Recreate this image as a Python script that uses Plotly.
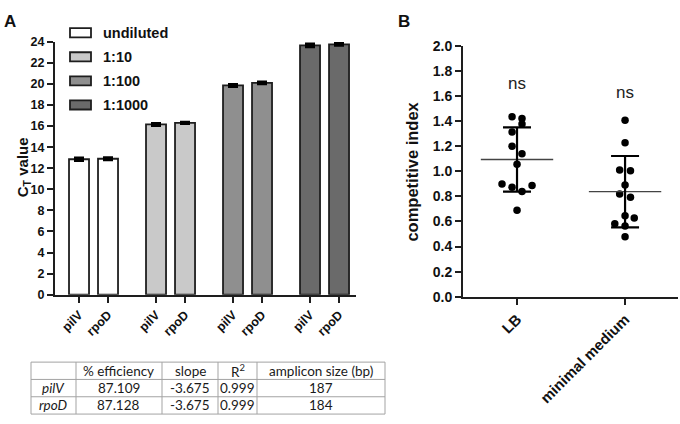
import numpy as np
import plotly.graph_objects as go

# ---------------- Data ----------------
genes = ["pilV", "rpoD"]
dilutions = ["undiluted", "1:10", "1:100", "1:1000"]
ct_values = {
    "undiluted": [12.85, 12.9],
    "1:10": [16.15, 16.3],
    "1:100": [19.85, 20.1],
    "1:1000": [23.65, 23.75],
}
ct_errors = {
    "undiluted": [0.12, 0.1],
    "1:10": [0.1, 0.06],
    "1:100": [0.1, 0.08],
    "1:1000": [0.12, 0.08],
}
ct_ticks = list(range(0, 25, 2))

table_header = ["", "% efficiency", "slope", "R<sup>2</sup>", "amplicon size (bp)"]
table_genes = ["<i>pilV</i>", "<i>rpoD</i>"]
table_efficiency = ["87.109", "87.128"]
table_slope = ["-3.675", "-3.675"]
table_r2 = ["0.999", "0.999"]
table_amplicon = ["187", "184"]

media = ["LB", "minimal medium"]
ci_lb = [1.435, 1.42, 1.376, 1.312, 1.20, 1.14, 1.056, 0.898, 0.873, 0.887, 0.839, 0.69]
ci_mm = [1.407, 1.228, 1.01, 1.003, 0.89, 0.819, 0.793, 0.645, 0.627, 0.581, 0.563, 0.478]
sig_labels = ["ns", "ns"]
sig_y = [1.70, 1.63]
ci_ticks = [round(0.2 * i, 1) for i in range(11)]

# ---------------- Styles ----------------
W, H = 680, 424
bar_colors = {"undiluted": "#ffffff", "1:10": "#c9c9c9", "1:100": "#8f8f8f", "1:1000": "#6a6a6a"}
AX = "#1e1e1e"
FONT = "Liberation Sans, Arial, sans-serif"
TFONT = "Lato, sans-serif"
pair_step = 2.655
bar_width = 0.69
jitter_lb = [-0.046, 0.046, 0.046, -0.046, -0.046, 0.046, 0.0, -0.139, -0.046, 0.139, 0.046, 0.0]
jitter_mm = [0.0, 0.0, -0.05, 0.05, 0.0, -0.05, 0.05, 0.0, 0.085, -0.095, 0.0, 0.0]
table_cols_px = [31, 76, 162, 218, 257, 385]
table_rows_px = [368, 386, 404, 422]


def px_x(p):
    return p / W


def px_y(p):
    return 1 - p / H


fig = go.Figure()

# ---------------- Panel A bars ----------------
tickvals, ticktext = [], []
for g, d in enumerate(dilutions):
    xs = [g * pair_step + j for j in range(len(genes))]
    tickvals += xs
    ticktext += genes
    fig.add_trace(go.Bar(
        x=xs, y=ct_values[d], width=bar_width, name=d,
        marker=dict(color=bar_colors[d], line=dict(color=AX, width=1.8)),
        error_y=dict(type="data", array=ct_errors[d], visible=True,
                     color="#000000", thickness=3, width=5),
        xaxis="x", yaxis="y", showlegend=False,
    ))

# custom legend (rectangular swatches)
for i, d in enumerate(dilutions):
    top = 21 + 25 * i
    fig.add_shape(type="rect", xref="paper", yref="paper",
                  x0=px_x(70), x1=px_x(91), y0=px_y(top + 9.5), y1=px_y(top),
                  fillcolor=bar_colors[d], line=dict(color=AX, width=1.8))
    fig.add_annotation(xref="paper", yref="paper", x=px_x(101), y=px_y(top + 4.8),
                       text=f"<b>{d}</b>", showarrow=False, xanchor="left", yanchor="middle",
                       font=dict(family=FONT, size=14.5, color="#111"))

# ---------------- Panel B scatter ----------------
for k, (vals, jit) in enumerate([(ci_lb, jitter_lb), (ci_mm, jitter_mm)]):
    arr = np.array(vals)
    mean, sd = arr.mean(), arr.std(ddof=1)
    fig.add_trace(go.Scatter(
        x=[k + j for j in jit], y=vals, mode="markers",
        marker=dict(color="#000", size=7.5), xaxis="x2", yaxis="y2", showlegend=False))
    fig.add_trace(go.Scatter(
        x=[k - 0.335, k + 0.335], y=[mean, mean], mode="lines",
        line=dict(color="#444", width=1.3), xaxis="x2", yaxis="y2", showlegend=False))
    fig.add_trace(go.Scatter(
        x=[k], y=[mean], mode="markers", marker=dict(size=1, color="rgba(0,0,0,0)"),
        error_y=dict(type="data", array=[sd], visible=True, color="#000",
                     thickness=2.2, width=14),
        xaxis="x2", yaxis="y2", showlegend=False))
    fig.add_annotation(x=k, y=sig_y[k], xref="x2", yref="y2", text=sig_labels[k],
                       showarrow=False, font=dict(family=FONT, size=17, color="#222"))

# ---------------- Table (drawn with lines + text) ----------------
GRID = "#a3a3a3"
for xp in table_cols_px:
    fig.add_shape(type="line", xref="paper", yref="paper",
                  x0=px_x(xp), x1=px_x(xp), y0=px_y(table_rows_px[0]), y1=px_y(table_rows_px[-1]),
                  line=dict(color=GRID, width=1))
for yp in table_rows_px:
    fig.add_shape(type="line", xref="paper", yref="paper",
                  x0=px_x(table_cols_px[0]), x1=px_x(table_cols_px[-1]), y0=px_y(yp), y1=px_y(yp),
                  line=dict(color=GRID, width=1))
table_columns = [table_genes, table_efficiency, table_slope, table_r2, table_amplicon]
for c in range(len(table_header)):
    cx = px_x((table_cols_px[c] + table_cols_px[c + 1]) / 2)
    rows = [table_header[c]] + table_columns[c]
    for r, txt in enumerate(rows):
        if not txt:
            continue
        cy = px_y((table_rows_px[r] + table_rows_px[r + 1]) / 2)
        fig.add_annotation(xref="paper", yref="paper", x=cx, y=cy, text=txt,
                           showarrow=False, xanchor="center", yanchor="middle",
                           font=dict(family=TFONT, size=13.5, color="#1a1a1a"))

axis_common = dict(showline=True, linecolor=AX, linewidth=2, ticks="outside",
                   tickcolor=AX, tickwidth=2, ticklen=6, showgrid=False, zeroline=False)

fig.update_layout(
    width=W, height=H, margin=dict(l=0, r=0, t=0, b=0),
    paper_bgcolor="white", plot_bgcolor="white",
    barmode="overlay",
    xaxis=dict(domain=[px_x(55), px_x(356)], range=[-0.828, 9.55],
               tickvals=tickvals, ticktext=[f"<b>{t}</b>" for t in ticktext],
               tickangle=-45, anchor="y",
               tickfont=dict(family=FONT, size=12.5, color="#111"), **axis_common),
    yaxis=dict(domain=[px_y(298), px_y(35)], range=[0, 24], tickvals=ct_ticks,
               ticktext=[f"<b>{t}</b>" for t in ct_ticks], anchor="x",
               tickfont=dict(family=FONT, size=12.5, color="#111"), **axis_common),
    xaxis2=dict(domain=[px_x(463), px_x(678)], range=[-0.5, 1.49],
                tickvals=[0, 1], ticktext=[f"<b>{m}</b>" for m in media],
                tickangle=-45, anchor="y2",
                tickfont=dict(family=FONT, size=15, color="#111"), **axis_common),
    yaxis2=dict(domain=[px_y(300), px_y(39.3)], range=[0, 2.0], tickvals=ci_ticks,
                ticktext=[f"<b>{t:.1f}</b>" for t in ci_ticks], anchor="x2",
                tickfont=dict(family=FONT, size=14, color="#111"), **axis_common),
)

fig.add_annotation(xref="paper", yref="paper", x=px_x(12), y=px_y(166),
                   text="<b>C<sub>T</sub> value</b>", textangle=-90, showarrow=False,
                   font=dict(family=FONT, size=15, color="#111"))
fig.add_annotation(xref="paper", yref="paper", x=px_x(412), y=px_y(170),
                   text="<b>competitive index</b>", textangle=-90, showarrow=False,
                   font=dict(family=FONT, size=16.5, color="#111"))
fig.add_annotation(xref="paper", yref="paper", x=px_x(2), y=px_y(2),
                   text="<b>A</b>", showarrow=False, xanchor="left", yanchor="top",
                   font=dict(family=FONT, size=17, color="#111"))
fig.add_annotation(xref="paper", yref="paper", x=px_x(396), y=px_y(2),
                   text="<b>B</b>", showarrow=False, xanchor="left", yanchor="top",
                   font=dict(family=FONT, size=17, color="#111"))

fix_page = (
    "document.documentElement.style.margin='0';"
    "document.documentElement.style.overflow='hidden';"
    "document.body.style.margin='0';"
    "document.body.style.overflow='hidden';"
    "var d=document.getElementById('{plot_id}');"
    "d.style.position='absolute';d.style.left='0px';d.style.top='0px';"
)
fig.write_html("out.html", config={"displayModeBar": False}, post_script=fix_page)
